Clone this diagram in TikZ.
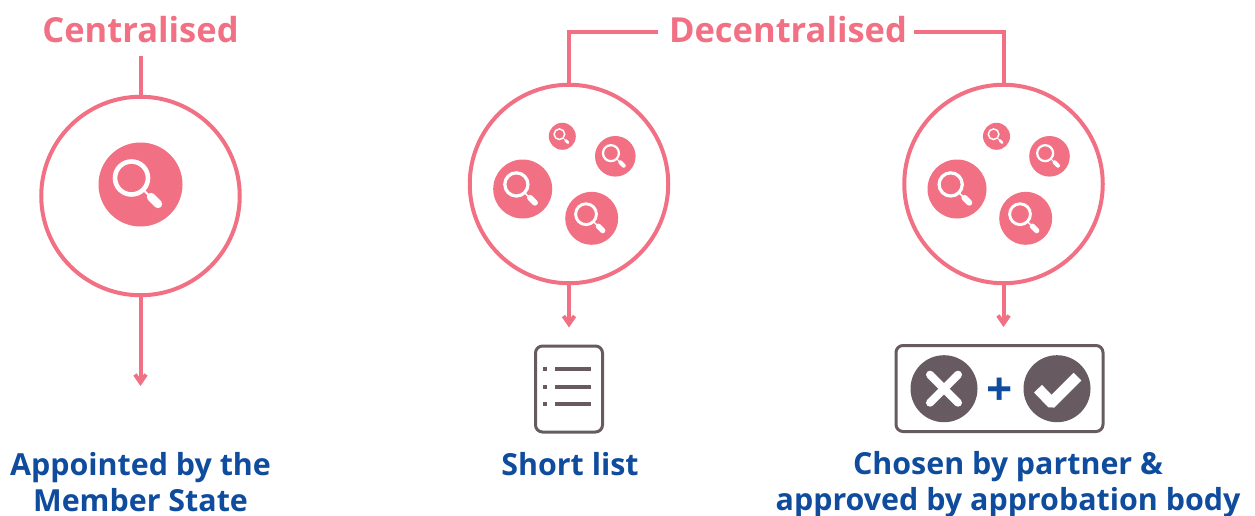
\documentclass[tikz,border=0pt]{standalone}
\usepackage{fontspec}
\setmainfont{Open Sans}
\usetikzlibrary{positioning, arrows.meta}
\definecolor{rosy}{HTML}{F27083}
\definecolor{slate}{HTML}{675A60}
\definecolor{navy}{HTML}{0F4C9E}
% name, x, y, radius of one spot with its magnifier
\newcommand{\lens}[4]{%
    \node[spot, minimum size=2*#4 pt] (#1) at (#2,#3) {};
    \begin{scope}[shift={(#2,#3)}, scale=#4/42]
        \draw[white, line width=#4*0.11pt] (-9,-6.5) circle[radius=16.5];
        \draw[white, line width=#4*0.05pt] (4,6.5) -- (10,12.5);
        \draw[white, line width=#4*0.2pt, line cap=round] (10.5,12.5) -- (17.5,19.5);
    \end{scope}
}

\begin{document}
\begin{tikzpicture}[
    x=1pt, y=-1pt,
    % GLOBAL CFG
    font=\bfseries,
    >={Straight Barb[length=8pt, width=11pt, line width=4pt]},
    % Styles
    head/.style={% For the two titles
        text=rosy,
        font=\bfseries\fontsize{34.5}{38}\selectfont,
        inner sep=0pt,
        },
    result/.style={% For the texts at the bottom
        text=navy,
        font=\bfseries\fontsize{30.4}{36}\selectfont,
        align=center,
        inner sep=0pt,
        },
    ring/.style={% For the big circles
        circle,
        draw=rosy,
        line width=4pt,
        minimum size=198.5pt,
        inner sep=0pt,
        },
    spot/.style={% For the filled circles
        circle,
        fill=rosy,
        inner sep=0pt,
        },
    link/.style={% Lines between titles, rings and results
        draw=rosy,
        line width=4pt,
        },
    frame/.style={% For the boxes at the bottom
        rectangle,
        draw=slate,
        rounded corners=7pt,
        line width=3pt,
        inner sep=0pt,
        },
    badge/.style={% For the cross and the tick
        circle,
        fill=slate,
        minimum size=67pt,
        inner sep=0pt,
        },
    ]
    \useasboundingbox (0,0) rectangle (1255,516);

    % Draw the titles
    \node[head] (central) at (140.5,30) {Centralised};
    \node[head, text depth=0pt] (decentral) at (788,29) {Decentralised};

    % Draw the rings
    \node[ring] (ring1) at (140.5,196) {};
    \node[ring] (ring2) at (569,184) {};
    \node[ring] (ring3) at (1003.5,184) {};

    % Draw the spots
    \lens{one}{140.5}{184.5}{42}

    \lens{a2}{522.7}{189}{29.5}
    \lens{b2}{591.7}{218.3}{26.5}
    \lens{c2}{615.3}{156.3}{20.3}
    \lens{d2}{562.3}{136.3}{13.5}

    \lens{a3}{957}{189}{29.5}
    \lens{b3}{1025.7}{218.3}{26.5}
    \lens{c3}{1049.5}{156.3}{20.3}
    \lens{d3}{996.5}{136.3}{13.5}

    % Draw the list box
    \node[frame, minimum width=67pt, minimum height=86pt] (list) at (569,389) {};
    \foreach \row/\ypos in {1/369, 2/387, 3/404}{
        \node[fill=slate, minimum size=4pt, inner sep=0pt] (bullet\row) at (545,\ypos) {};
        \node[fill=slate, minimum width=36pt, minimum height=4pt, inner sep=0pt] (entry\row) at (573,\ypos) {};
    }

    % Draw the choice box
    \node[frame, minimum width=207pt, minimum height=86pt] (choice) at (999.5,388.5) {};
    \node[badge] (cross) at (944,388.7) {};
    \node[badge] (tick) at (1057,388.7) {};
    \node[text=navy, font=\bfseries\fontsize{46}{50}\selectfont, inner sep=0pt] (plus) at (999.5,392) {+};
    \draw[white, line width=8pt, line cap=round] (cross.center) ++(-14,-14) -- ++(28,28);
    \draw[white, line width=8pt, line cap=round] (cross.center) ++(-14,14) -- ++(28,-28);
    \draw[white, line width=11pt, rounded corners=1pt] (tick.center) ++(-19,0) -- ++(13.5,14) -- ++(26,-26);

    % Draw the results
    \node[result] (appointed) at (140.5,482) {Appointed by the\\Member State};
    \node[result] (short) at (570,464) {Short list};
    \node[result] (chosen) at (1008,484.5) {Chosen by partner \&\\approved by approbation body};

    % Start connecting all.
    \coordinate (top1) at (140.5,56);
    \coordinate (tip1) at (140.5,386);
    \draw[link] (top1) -- (ring1);
    \draw[link, ->] (ring1) -- (tip1);

    \draw[link] (decentral.west) ++(-11,3) -| (ring2);
    \draw[link] (decentral.east) ++(7,3) -| (ring3);

    \draw[link, ->, shorten >=17pt] (ring2) -- (list);
    \draw[link, ->, shorten >=17pt] (ring3) -- (ring3 |- choice.north);
\end{tikzpicture}
\end{document}
